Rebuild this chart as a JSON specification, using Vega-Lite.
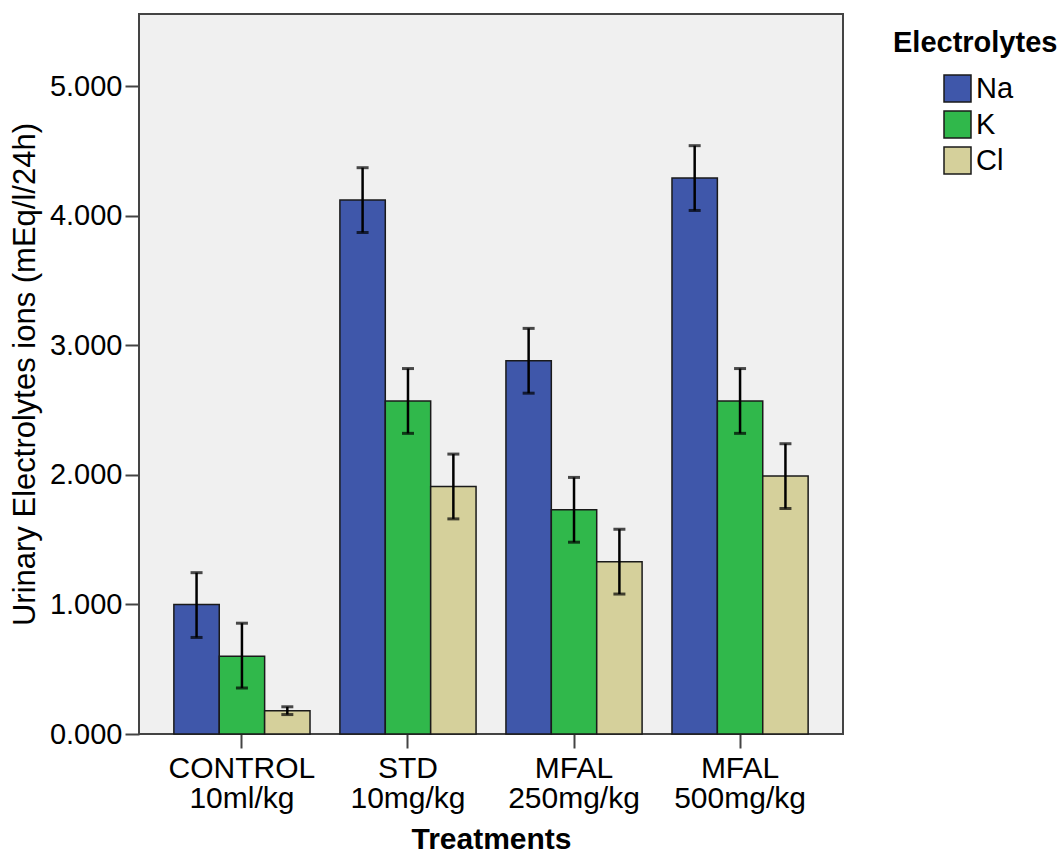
{
  "$schema": "https://vega.github.io/schema/vega-lite/v6.json",
  "width": 704,
  "height": 720,
  "autosize": {"type": "none"},
  "padding": {"left": 139, "top": 14, "right": 220, "bottom": 123},
  "background": "white",
  "config": {
    "view": {"fill": "#f0f0f0", "stroke": "#444444", "strokeWidth": 2},
    "font": "Liberation Sans"
  },
  "data": {
    "values": [
      {"treatment": "CONTROL 10ml/kg", "ion": "Na", "value": 1.00, "lo": 0.745, "hi": 1.245},
      {"treatment": "CONTROL 10ml/kg", "ion": "K", "value": 0.60, "lo": 0.355, "hi": 0.855},
      {"treatment": "CONTROL 10ml/kg", "ion": "Cl", "value": 0.18, "lo": 0.15, "hi": 0.21},
      {"treatment": "STD 10mg/kg", "ion": "Na", "value": 4.12, "lo": 3.87, "hi": 4.37},
      {"treatment": "STD 10mg/kg", "ion": "K", "value": 2.57, "lo": 2.32, "hi": 2.82},
      {"treatment": "STD 10mg/kg", "ion": "Cl", "value": 1.91, "lo": 1.66, "hi": 2.16},
      {"treatment": "MFAL 250mg/kg", "ion": "Na", "value": 2.88, "lo": 2.63, "hi": 3.13},
      {"treatment": "MFAL 250mg/kg", "ion": "K", "value": 1.73, "lo": 1.48, "hi": 1.98},
      {"treatment": "MFAL 250mg/kg", "ion": "Cl", "value": 1.33, "lo": 1.08, "hi": 1.58},
      {"treatment": "MFAL 500mg/kg", "ion": "Na", "value": 4.29, "lo": 4.04, "hi": 4.54},
      {"treatment": "MFAL 500mg/kg", "ion": "K", "value": 2.57, "lo": 2.32, "hi": 2.82},
      {"treatment": "MFAL 500mg/kg", "ion": "Cl", "value": 1.99, "lo": 1.74, "hi": 2.24}
    ]
  },
  "encoding": {
    "x": {
      "field": "treatment",
      "type": "nominal",
      "sort": ["CONTROL 10ml/kg", "STD 10mg/kg", "MFAL 250mg/kg", "MFAL 500mg/kg"],
      "scale": {"paddingInner": 0.18, "paddingOuter": 0.21},
      "axis": {
        "title": "Treatments",
        "titleFontSize": 30,
        "titleFontWeight": "bold",
        "titleColor": "black",
        "titlePadding": 11,
        "labelAngle": 0,
        "labelExpr": "split(datum.label, ' ')",
        "labelFontSize": 30,
        "labelColor": "black",
        "labelLineHeight": 30,
        "labelPadding": 5,
        "tickSize": 14,
        "tickWidth": 2,
        "tickColor": "#444444",
        "domain": false
      }
    },
    "xOffset": {
      "field": "ion",
      "type": "nominal",
      "sort": ["Na", "K", "Cl"],
      "scale": {"paddingInner": 0, "paddingOuter": 0}
    }
  },
  "layer": [
    {
      "mark": {"type": "bar", "stroke": "#1a1a1a", "strokeWidth": 1.5},
      "encoding": {
        "y": {
          "field": "value",
          "type": "quantitative",
          "scale": {"domain": [0, 5.556], "nice": false, "zero": true},
          "axis": {
            "title": "Urinary Electrolytes ions (mEq/l/24h)",
            "titleFontSize": 31,
            "titleFontWeight": "normal",
            "titleColor": "black",
            "titlePadding": 8,
            "values": [0, 1, 2, 3, 4, 5],
            "format": ".3f",
            "labelFontSize": 29,
            "labelColor": "black",
            "labelPadding": 3,
            "tickSize": 14,
            "tickWidth": 2,
            "tickColor": "#444444",
            "grid": false,
            "domain": false
          }
        },
        "color": {
          "field": "ion",
          "type": "nominal",
          "sort": ["Na", "K", "Cl"],
          "scale": {"domain": ["Na", "K", "Cl"], "range": ["#3f57aa", "#30b84b", "#d5d09b"]},
          "legend": {
            "title": "Electrolytes",
            "orient": "none",
            "legendX": 754,
            "legendY": 15,
            "titleAnchor": "start",
            "titleFontSize": 29,
            "titleFontWeight": "bold",
            "titleColor": "black",
            "titlePadding": 16,
            "labelFontSize": 29,
            "labelColor": "black",
            "labelOffset": 4,
            "symbolOffset": 50,
            "symbolType": "square",
            "symbolSize": 729,
            "symbolStrokeColor": "#1a1a1a",
            "symbolStrokeWidth": 1.5,
            "rowPadding": 3
          }
        }
      }
    },
    {
      "mark": {"type": "rule", "color": "black", "strokeWidth": 2.5},
      "encoding": {
        "y": {"field": "lo", "type": "quantitative"},
        "y2": {"field": "hi"}
      }
    },
    {
      "mark": {"type": "tick", "color": "black", "thickness": 3, "size": 12},
      "encoding": {
        "y": {"field": "lo", "type": "quantitative"}
      }
    },
    {
      "mark": {"type": "tick", "color": "black", "thickness": 3, "size": 12},
      "encoding": {
        "y": {"field": "hi", "type": "quantitative"}
      }
    }
  ]
}
